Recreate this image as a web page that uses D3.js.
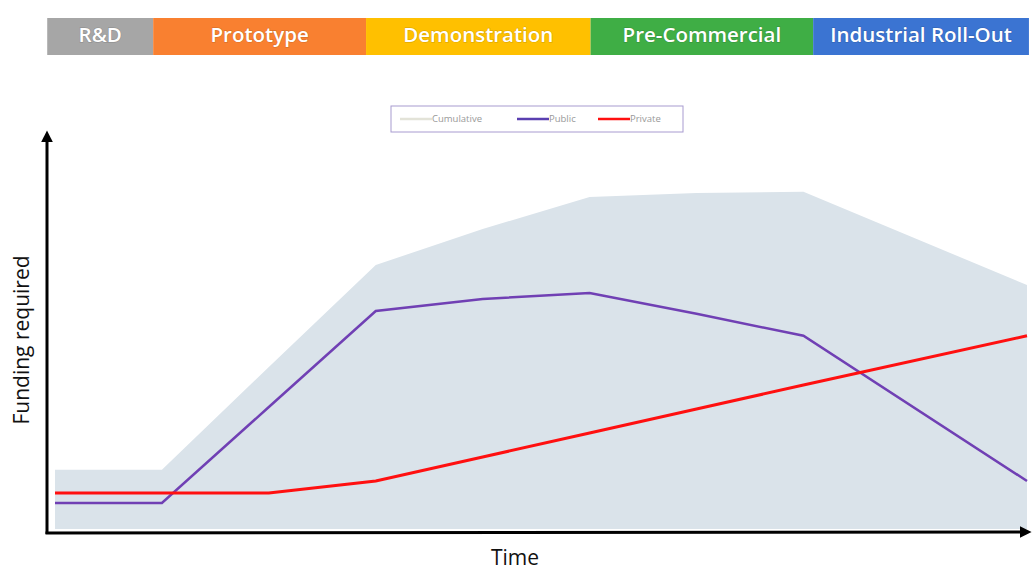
<!DOCTYPE html>
<html>
<head>
<meta charset="utf-8">
<script src="https://cdn.jsdelivr.net/npm/d3@7"></script>
<style>
  body { margin: 0; background: #fff; }
  svg { display: block; font-family: "Open Sans", "Liberation Sans", sans-serif; }
</style>
</head>
<body>
<div id="chart"></div>
<script>
// phases shown in the bar on top (start / end on the same 0-100 time scale as the chart)
var phases = ["R&D", "Prototype", "Demonstration", "Pre-Commercial", "Industrial Roll-Out"]
var phaseStart = [-0.8, 10.1, 32.0, 55.1, 78.0]
var phaseEnd = [10.1, 32.0, 55.1, 78.0, 100.2]
var phaseColors = ["#a6a6a6", "#f98030", "#ffc000", "#3fae45", "#3b74d2"]

// time points and funding series (arbitrary units 0-100)
var time = [0, 11, 22, 33, 44, 55, 66, 77, 100]
var cumulative = [15.8, 15.8, 41.5, 67, 76, 84, 85, 85.3, 62]
var publicFunds = [7.5, 7.5, 31.5, 55.5, 58.5, 60, 54.8, 49.3, 13]
var privateFunds = [10, 10, 10, 13, 19, 25, 31, 37, 49.3]

var legendNames = ["Cumulative", "Public", "Private"]

var width = 1034, height = 570

var svg = d3.select("#chart")
  .append("svg")
    .attr("width", width)
    .attr("height", height)

var x = d3.scaleLinear().domain([0, 100]).range([55, 1027])
var y = d3.scaleLinear().domain([0, 100]).range([533, 133])

// phase bar
var bar = svg.append("g")
bar.selectAll("rect")
  .data(phases)
  .enter()
  .append("rect")
    .attr("x", function(d, i) { return x(phaseStart[i]) })
    .attr("width", function(d, i) { return x(phaseEnd[i]) - x(phaseStart[i]) })
    .attr("y", 18)
    .attr("height", 37)
    .attr("fill", function(d, i) { return phaseColors[i] })
bar.selectAll("text")
  .data(phases)
  .enter()
  .append("text")
    .attr("x", function(d, i) { return (x(phaseStart[i]) + x(phaseEnd[i])) / 2 })
    .attr("y", 42)
    .attr("text-anchor", "middle")
    .attr("fill", "#fff")
    .style("font-size", "20.5px")
    .style("font-weight", "600")
    .style("paint-order", "stroke")
    .attr("stroke", "rgba(0,0,0,0.12)")
    .attr("stroke-width", 1.5)
    .text(function(d) { return d })

// cumulative area
var area = d3.area()
  .x(function(d, i) { return x(time[i]) })
  .y0(y(1))
  .y1(function(d) { return y(d) })
svg.append("path")
  .datum(cumulative)
  .attr("fill", "#dae3ea")
  .attr("d", area)

var line = d3.line()
  .x(function(d, i) { return x(time[i]) })
  .y(function(d) { return y(d) })

svg.append("path")
  .datum(publicFunds)
  .attr("fill", "none")
  .attr("stroke", "#7040b4")
  .attr("stroke-width", 2.5)
  .attr("d", line)

svg.append("path")
  .datum(privateFunds)
  .attr("fill", "none")
  .attr("stroke", "#ff1010")
  .attr("stroke-width", 3)
  .attr("d", line)

// arrow marker for the axes
svg.append("defs").append("marker")
  .attr("id", "arrow")
  .attr("viewBox", "0 0 10 10")
  .attr("refX", 2)
  .attr("refY", 5)
  .attr("markerWidth", 4)
  .attr("markerHeight", 4)
  .attr("orient", "auto")
  .append("path")
    .attr("d", "M0,0 L10,5 L0,10 z")
    .attr("fill", "#000")

svg.append("line")
  .attr("x1", 47).attr("y1", 534)
  .attr("x2", 47).attr("y2", 140)
  .attr("stroke", "#000")
  .attr("stroke-width", 3)
  .attr("marker-end", "url(#arrow)")
svg.append("line")
  .attr("x1", 45.5).attr("y1", 533)
  .attr("x2", 1022).attr("y2", 532)
  .attr("stroke", "#000")
  .attr("stroke-width", 3)
  .attr("marker-end", "url(#arrow)")

// axis titles
svg.append("text")
  .attr("transform", "translate(29,340) rotate(-90)")
  .attr("text-anchor", "middle")
  .attr("fill", "#111")
  .style("font-size", "21px")
  .text("Funding required")
svg.append("text")
  .attr("x", 515)
  .attr("y", 565)
  .attr("text-anchor", "middle")
  .attr("fill", "#111")
  .style("font-size", "21px")
  .text("Time")

// legend
var legend = svg.append("g")
legend.append("rect")
  .attr("x", 391).attr("y", 106)
  .attr("width", 292).attr("height", 26)
  .attr("fill", "#fff")
  .attr("stroke", "#a89bd0")
  .attr("stroke-width", 1)
var legX = [400, 517, 598]
var legColors = ["#e3e3d8", "#5a3fb0", "#ff1010"]
legend.selectAll("line.key")
  .data(legendNames)
  .enter()
  .append("line")
    .attr("class", "key")
    .attr("x1", function(d, i) { return legX[i] })
    .attr("x2", function(d, i) { return legX[i] + 32 })
    .attr("y1", 119).attr("y2", 119)
    .attr("stroke", function(d, i) { return legColors[i] })
    .attr("stroke-width", 2.5)
legend.selectAll("text")
  .data(legendNames)
  .enter()
  .append("text")
    .attr("x", function(d, i) { return legX[i] + 32 })
    .attr("y", 122)
    .attr("fill", "#999")
    .style("font-size", "9.5px")
    .text(function(d) { return d })
</script>
</body>
</html>
